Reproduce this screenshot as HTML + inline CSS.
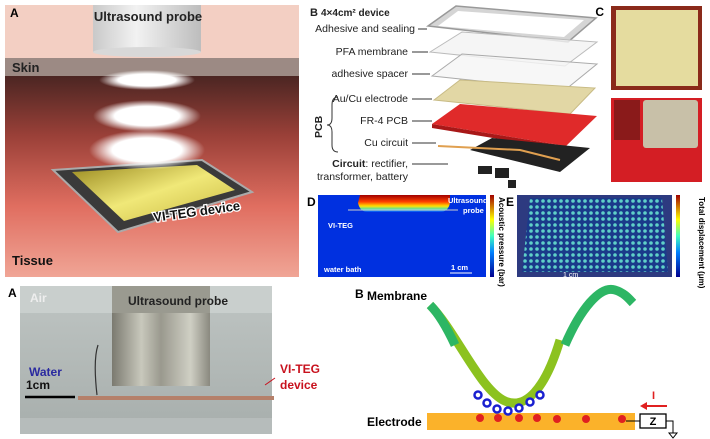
<!DOCTYPE html>
<html><head><meta charset="utf-8"><style>
html,body{margin:0;padding:0;background:#fff}
svg{display:block;font-family:"Liberation Sans",sans-serif}
</style></head><body>
<svg width="710" height="439" viewBox="0 0 710 439" xmlns="http://www.w3.org/2000/svg">
<defs>
<linearGradient id="tis" x1="0" y1="0" x2="0" y2="1">
<stop offset="0" stop-color="#4a2522"/><stop offset="0.3" stop-color="#9a4038"/><stop offset="0.65" stop-color="#e06e60"/><stop offset="1" stop-color="#f0a596"/></linearGradient>
<linearGradient id="cyl" x1="0" y1="0" x2="1" y2="0">
<stop offset="0" stop-color="#c9c9c9"/><stop offset="0.4" stop-color="#f2f2f2"/><stop offset="1" stop-color="#bdbdbd"/></linearGradient>
<radialGradient id="glow"><stop offset="0.6" stop-color="#fff"/><stop offset="1" stop-color="#fff" stop-opacity="0"/></radialGradient>
<linearGradient id="gold" x1="0" y1="0" x2="1" y2="1"><stop offset="0" stop-color="#9a8a20"/><stop offset="0.5" stop-color="#f0e878"/><stop offset="1" stop-color="#c8b840"/></linearGradient>
<linearGradient id="cb" x1="0" y1="1" x2="0" y2="0"><stop offset="0" stop-color="#00008f"/><stop offset="0.3" stop-color="#0080ff"/><stop offset="0.5" stop-color="#40ffc0"/><stop offset="0.7" stop-color="#ffff00"/><stop offset="1" stop-color="#a00000"/></linearGradient>
<linearGradient id="heat" x1="0" y1="0" x2="0" y2="1"><stop offset="0" stop-color="#a00000"/><stop offset="0.4" stop-color="#ff4000"/><stop offset="0.65" stop-color="#ffe000"/><stop offset="0.85" stop-color="#40e0c0"/><stop offset="1" stop-color="#0040ff"/></linearGradient>
<pattern id="dots" width="6" height="6" patternUnits="userSpaceOnUse"><rect width="6" height="6" fill="#1a3a8a"/><circle cx="3" cy="3" r="1.8" fill="#5fd0c8"/></pattern>
<linearGradient id="photo" x1="0" y1="0" x2="0" y2="1"><stop offset="0" stop-color="#bfc5c3"/><stop offset="1" stop-color="#a7aeac"/></linearGradient>
<linearGradient id="metal" x1="0" y1="0" x2="1" y2="0"><stop offset="0" stop-color="#7b7a70"/><stop offset="0.3" stop-color="#c8c8bc"/><stop offset="0.5" stop-color="#9a998e"/><stop offset="0.8" stop-color="#cfcfc4"/><stop offset="1" stop-color="#8a897f"/></linearGradient>
</defs>

<!-- Panel A top -->
<rect x="5" y="5" width="294" height="272" fill="#f3cfc3"/>
<rect x="5" y="75" width="294" height="202" fill="url(#tis)"/>
<rect x="5" y="58" width="294" height="18" fill="#9c8a84"/>
<rect x="93" y="5" width="108" height="47" fill="url(#cyl)"/>
<ellipse cx="147" cy="52" rx="54" ry="5" fill="#d8d8d8"/>
<ellipse cx="147" cy="80" rx="48" ry="10" fill="url(#glow)"/>
<ellipse cx="147" cy="116" rx="54" ry="16" fill="url(#glow)"/>
<polygon points="53,170 202,160 252,192 118,232" fill="#3a3a3a" stroke="#aaa" stroke-width="2"/>
<polygon points="72,172 197,165 235,190 124,221" fill="url(#gold)"/>
<ellipse cx="147" cy="150" rx="58" ry="20" fill="url(#glow)"/>
<g font-weight="bold" font-size="13">
<text x="10" y="17" font-size="12">A</text>
<text x="148" y="21" text-anchor="middle" fill="#222">Ultrasound probe</text>
<text x="12" y="72" fill="#222">Skin</text>
<text x="154" y="222" transform="rotate(-8 154 222)" fill="#111" stroke="#fff" stroke-width="2.5" paint-order="stroke">VI-TEG device</text>
<text x="12" y="265" fill="#111">Tissue</text>
</g>

<!-- Panel B top -->
<g font-size="10.5" fill="#222">
<text x="310" y="16" font-weight="bold" font-size="11">B <tspan font-size="10">4×4cm² device</tspan></text>
<text x="415" y="32" text-anchor="end">Adhesive and sealing</text>
<text x="408" y="55" text-anchor="end">PFA membrane</text>
<text x="408" y="77" text-anchor="end">adhesive spacer</text>
<text x="408" y="102" text-anchor="end">Au/Cu electrode</text>
<text x="408" y="124" text-anchor="end">FR-4 PCB</text>
<text x="408" y="146" text-anchor="end">Cu circuit</text>
<text x="408" y="167" text-anchor="end"><tspan font-weight="bold">Circuit</tspan>: rectifier,</text>
<text x="408" y="180" text-anchor="end">transformer, battery</text>
<text x="322" y="138" font-weight="bold" transform="rotate(-90 322 138)">PCB</text>
</g>
<path d="M338,97 Q332,97 332,105 L332,118 Q332,125 327,125 Q332,125 332,132 L332,145 Q332,152 338,152" fill="none" stroke="#333" stroke-width="1"/>
<g stroke="#333" stroke-width="1">
<line x1="418" y1="29" x2="427" y2="29"/><line x1="412" y1="52" x2="428" y2="52"/><line x1="412" y1="74" x2="430" y2="74"/>
<line x1="412" y1="99" x2="432" y2="99"/><line x1="412" y1="121" x2="432" y2="121"/><line x1="412" y1="143" x2="436" y2="143"/><line x1="412" y1="164" x2="448" y2="164"/>
</g>
<polygon points="428,26 456,6 596,18 568,42" fill="#d5d5d5" stroke="#999" stroke-width="1.5"/>
<polygon points="438,26 458,11 584,20 564,37" fill="#fff"/>
<polygon points="430,52 462,32 597,42 565,66" fill="#f3f3f3" fill-opacity="0.8" stroke="#bbb"/>
<polygon points="432,76 462,54 597,64 565,90" fill="#f5f5f5" fill-opacity="0.8" stroke="#aaa"/>
<polygon points="434,100 460,80 595,88 570,114" fill="#e2d7a5" stroke="#c8bb85"/>
<polygon points="432,124 460,104 597,116 566,146" fill="#e02a2a"/>
<polygon points="432,124 566,146 566,150 432,128" fill="#a81818"/>
<polygon points="470,150 492,138 590,148 560,172" fill="#222"/>
<path d="M438,146 L520,150 L560,160" stroke="#e0a050" stroke-width="2" fill="none"/>
<rect x="478" y="166" width="14" height="8" fill="#222"/><rect x="495" y="168" width="14" height="10" fill="#222"/><rect x="508" y="180" width="8" height="8" fill="#222"/>

<!-- Panel C -->
<rect x="611" y="6" width="91" height="84" fill="#8a2a1a"/>
<rect x="616" y="10" width="82" height="76" fill="#e5dc9f"/>
<rect x="611" y="98" width="91" height="84" fill="#d41e24"/>
<rect x="643" y="100" width="55" height="48" fill="#c8c0a8" rx="3"/>
<rect x="614" y="100" width="26" height="40" fill="#8a1a1a"/>
<text x="604" y="16" font-weight="bold" font-size="12" text-anchor="end">C</text>

<!-- Panel D -->
<text x="307" y="206" font-weight="bold" font-size="12">D</text>
<rect x="318" y="195" width="168" height="82" fill="#0030e0"/>
<path d="M360,195 L450,195 L450,203 Q448,212 440,212 L368,212 Q360,212 358,203 Z" fill="url(#heat)"/>
<line x1="348" y1="210" x2="458" y2="210" stroke="#ccc" stroke-width="1"/>
<g fill="#fff" font-size="7.5" font-weight="bold">
<text x="448" y="203">Ultrasound</text><text x="463" y="213">probe</text>
<text x="328" y="228">VI-TEG</text><text x="324" y="272">water bath</text><text x="451" y="270">1 cm</text></g>
<line x1="450" y1="273" x2="472" y2="273" stroke="#fff"/>
<rect x="490" y="195" width="4" height="82" fill="url(#cb)"/>
<text x="499" y="197" font-size="8" font-weight="bold" transform="rotate(90 499 197)">Acoustic pressure (bar)</text>

<!-- Panel E -->
<text x="506" y="206" font-weight="bold" font-size="12">E</text>
<rect x="517" y="195" width="155" height="82" fill="#2d3a80"/>
<polygon points="530,198 662,198 668,272 522,272" fill="url(#dots)"/>
<text x="563" y="277" font-size="7" fill="#fff">1 cm</text>
<rect x="676" y="195" width="4" height="82" fill="url(#cb)"/>
<text x="699" y="197" font-size="8" font-weight="bold" transform="rotate(90 699 197)">Total displacement (μm)</text>

<!-- Panel A bottom -->
<text x="8" y="297" font-weight="bold" font-size="12">A</text>
<rect x="20" y="286" width="252" height="148" fill="url(#photo)"/>
<rect x="20" y="286" width="252" height="27" fill="#c9cfcd"/>
<rect x="112" y="286" width="98" height="100" fill="url(#metal)"/>
<rect x="112" y="286" width="98" height="27" fill="#9a9a90"/>
<rect x="20" y="418" width="252" height="16" fill="#b6bcbb"/>
<rect x="78" y="396" width="196" height="4" fill="#b5806a"/>
<line x1="25" y1="397" x2="75" y2="397" stroke="#000" stroke-width="2.5"/>
<path d="M97,395 Q93,360 98,345" stroke="#333" stroke-width="1.2" fill="none"/>
<g font-weight="bold" font-size="12">
<text x="30" y="302" fill="#eee">Air</text>
<text x="128" y="305" fill="#222">Ultrasound probe</text>
<text x="29" y="376" fill="#2a2aa0">Water</text>
<text x="26" y="389" fill="#111">1cm</text>
<text x="280" y="373" fill="#c8121e">VI-TEG</text>
<text x="280" y="389" fill="#c8121e">device</text>
</g>
<line x1="265" y1="385" x2="275" y2="378" stroke="#c8121e"/>

<!-- Panel B bottom -->
<text x="355" y="298" font-weight="bold" font-size="12">B</text>
<text x="367" y="300" font-weight="bold" font-size="12">Membrane</text>
<rect x="427" y="413" width="208" height="17" fill="#fbb22a"/>
<path d="M430,305 C455,330 480,390 505,401 C525,410 545,390 560,340" stroke="#8cc21f" stroke-width="9" fill="none"/>
<path d="M430,305 C440,315 448,330 455,345" stroke="#2db664" stroke-width="9" fill="none"/>
<path d="M565,345 C580,310 600,285 615,290 C625,293 630,300 633,303" stroke="#2db664" stroke-width="9" fill="none"/>
<g fill="#fff" stroke="#1a20d0" stroke-width="2.5">
<circle cx="478" cy="395" r="3.5"/><circle cx="487" cy="403" r="3.5"/><circle cx="497" cy="409" r="3.5"/><circle cx="508" cy="411" r="3.5"/><circle cx="519" cy="408" r="3.5"/><circle cx="530" cy="402" r="3.5"/><circle cx="540" cy="395" r="3.5"/></g>
<g fill="#e02020"><circle cx="480" cy="418" r="4"/><circle cx="498" cy="418" r="4"/><circle cx="519" cy="418" r="4"/><circle cx="537" cy="418" r="4"/><circle cx="557" cy="419" r="4"/><circle cx="586" cy="419" r="4"/><circle cx="622" cy="419" r="4"/></g>
<text x="367" y="426" font-weight="bold" font-size="12">Electrode</text>
<line x1="626" y1="421" x2="640" y2="421" stroke="#000"/>
<rect x="640" y="414" width="26" height="14" fill="#fff" stroke="#000" stroke-width="1.3"/>
<text x="653" y="425" font-size="11" font-weight="bold" text-anchor="middle">Z</text>
<path d="M666,421 L673,421 L673,433 M669,433 L677,433 L673,438 Z" stroke="#000" fill="none"/>
<line x1="645" y1="406" x2="667" y2="406" stroke="#e02020" stroke-width="2"/>
<polygon points="640,406 647,402 647,410" fill="#e02020"/>
<text x="652" y="399" fill="#e02020" font-size="11" font-weight="bold">I</text>
</svg>
</body></html>
